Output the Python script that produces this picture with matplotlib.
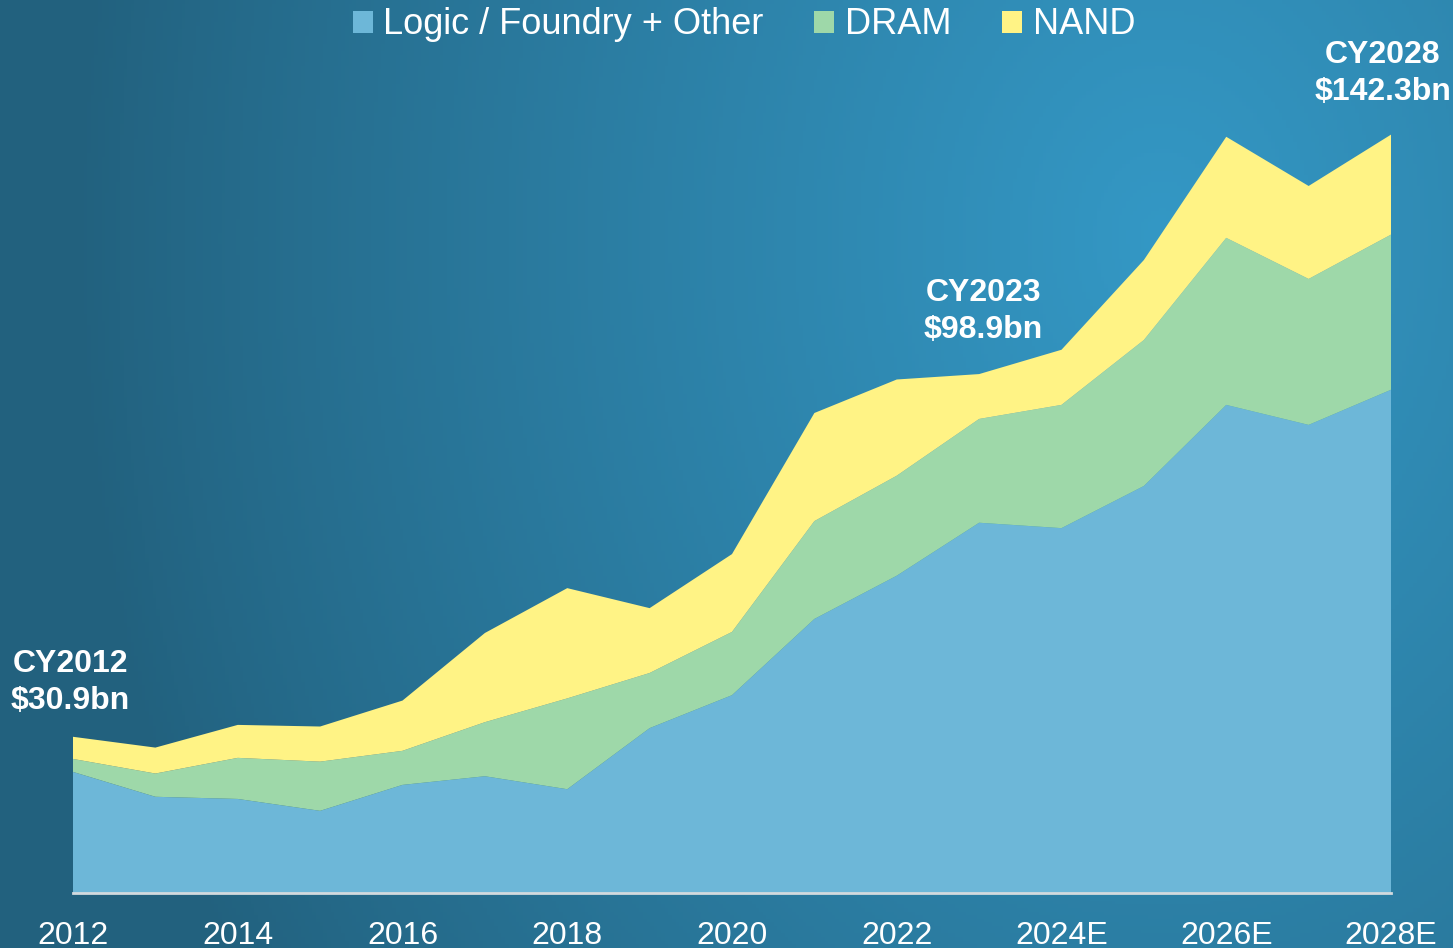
import numpy as np
import matplotlib
matplotlib.use("Agg")
import matplotlib.pyplot as plt
from matplotlib.patches import Patch

plt.rcParams['font.family'] = ['Liberation Sans', 'DejaVu Sans']

years = list(range(2012, 2029))
tick_years = [2012, 2014, 2016, 2018, 2020, 2022, 2024, 2026, 2028]
tick_labels = ["2012", "2014", "2016", "2018", "2020", "2022", "2024E", "2026E", "2028E"]

# $bn
logic = [24.4, 19.8, 19.4, 17.2, 22.0, 23.6, 21.2, 32.5, 38.6, 52.7,
         60.7, 70.5, 69.5, 77.3, 92.3, 88.6, 95.1]
dram = [2.4, 4.3, 7.6, 9.1, 6.3, 10.0, 16.8, 10.2, 11.7, 18.1,
        18.5, 19.2, 22.8, 27.0, 30.9, 27.0, 28.7]
nand = [4.1, 4.8, 6.1, 6.5, 9.3, 16.5, 20.4, 12.0, 14.4, 20.0,
        17.8, 8.3, 10.2, 14.8, 18.7, 17.2, 18.5]

series_names = ["Logic / Foundry + Other", "DRAM", "NAND"]
colors = ["#6db7d8", "#9ed8a9", "#fff385"]

callouts = [(2012, "CY2012\n$30.9bn", -2, 39),
            (2023, "CY2023\n$98.9bn", 3, 45),
            (2028, "CY2028\n$142.3bn", -6, 44)]

W, H = 1453, 948
fig = plt.figure(figsize=(W / 100, H / 100), dpi=100)

# background gradient
bg = fig.add_axes([0, 0, 1, 1], zorder=-10)
xx, yy = np.meshgrid(np.linspace(0, 1, 400), np.linspace(0, 1, 260))
d = np.sqrt(((xx - 0.8) / 0.75) ** 2 + ((yy - 0.25) / 1.5) ** 2)
f = np.clip(1 - d, 0, 1) ** 0.9
dark = np.array([34, 97, 126]) / 255
bright = np.array([52, 152, 197]) / 255
img = dark[None, None, :] + (bright - dark)[None, None, :] * f[..., None]
bg.imshow(img, aspect='auto', extent=[0, 1, 0, 1], origin='upper')
bg.axis('off')

ax = fig.add_axes([73 / W, (H - 893) / H, (1391 - 73) / W, 800 / H])
ax.set_facecolor('none')
ax.stackplot(years, logic, dram, nand, colors=colors, linewidth=0)
ax.set_xlim(2012, 2028)
ax.set_ylim(2, 150)

for s in ['top', 'right', 'left']:
    ax.spines[s].set_visible(False)
ax.spines['bottom'].set_color('#d3dade')
ax.spines['bottom'].set_linewidth(2)
ax.set_yticks([])
ax.set_xticks(tick_years)
ax.set_xticklabels(tick_labels, color='white', fontsize=23)
ax.tick_params(axis='x', length=0, pad=20)

totals = [a + b + c for a, b, c in zip(logic, dram, nand)]
for yr, txt, dx, dy in callouts:
    i = years.index(yr)
    ax.annotate(txt, xy=(yr, totals[i]), xytext=(dx, dy), textcoords='offset points',
                ha='center', va='center', color='white', fontsize=23,
                fontweight='bold', linespacing=1.28, annotation_clip=False)

handles = [Patch(facecolor=c, edgecolor='none') for c in colors]
leg = fig.legend(handles, series_names, loc='center', bbox_to_anchor=(744 / W, 1 - 25 / H),
                 ncol=3, frameon=False, fontsize=26, handlelength=0.55, handleheight=0.55,
                 handletextpad=0.3, columnspacing=1.4, borderaxespad=0)
for t in leg.get_texts():
    t.set_color('white')

fig.savefig("out.png", dpi=100)
